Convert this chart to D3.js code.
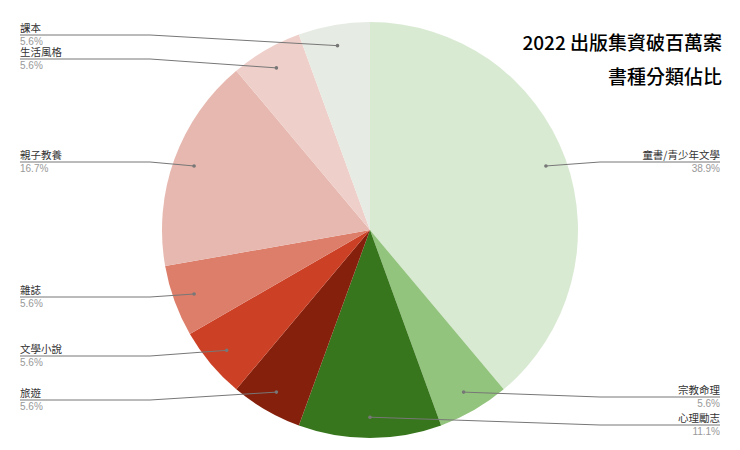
<!DOCTYPE html>
<html><head><meta charset="utf-8">
<script src="https://cdn.jsdelivr.net/npm/d3@7"></script>
<style>body{margin:0;background:#fff;font-family:"Noto Sans CJK TC",sans-serif}</style>
</head><body><div id="chart"></div>
<script>
const categories = ["童書/青少年文學","宗教命理","心理勵志","旅遊","文學小說","雜誌","親子教養","生活風格","課本"];
const values = [7, 1, 2, 1, 1, 1, 3, 1, 1];
const percentLabels = ["38.9%","5.6%","11.1%","5.6%","5.6%","5.6%","16.7%","5.6%","5.6%"];
const colors = ["#d9ead3","#93c47d","#38761d","#85200c","#cc4125","#dd7e6b","#e6b8af","#efcfca","#e6ebe3"];
// label line y for each slice, and which side
const labelY = [162, 397, 425, 400, 356, 297, 162, 59, 35];
const side = ["R","R","R","L","L","L","L","L","L"];

const W = 740, H = 450, cx = 370, cy = 230, r = 208;
const svg = d3.select("#chart").append("svg").attr("width", W).attr("height", H);

const pie = d3.pie().sort(null).value(d => d)(values);
const arc = d3.arc().innerRadius(0).outerRadius(r);
const g = svg.append("g").attr("transform", `translate(${cx},${cy})`);
g.selectAll("path").data(pie).join("path")
  .attr("d", arc).attr("fill", (d, i) => colors[i]);

const dotArc = d3.arc().innerRadius(r * 0.9).outerRadius(r * 0.9);
pie.forEach((d, i) => {
  const [dx, dy] = dotArc.centroid(d);
  const px = cx + dx, py = cy + dy;
  const y = labelY[i];
  const left = side[i] === "L";
  const x0 = left ? 20 : 720;
  const xm = left ? Math.min(px - 30, 150) : Math.max(px + 30, 600);
  svg.append("path")
    .attr("d", `M${x0},${y}L${xm},${y}L${px},${py}`)
    .attr("fill", "none").attr("stroke", "#777").attr("stroke-width", 1);
  svg.append("circle").attr("cx", px).attr("cy", py).attr("r", 1.8).attr("fill", "#777");
  const anchor = left ? "start" : "end";
  svg.append("text").attr("x", x0).attr("y", y - 3).attr("text-anchor", anchor)
    .attr("font-size", 10.5).attr("fill", "#333").text(categories[i]);
  svg.append("text").attr("x", x0).attr("y", y + 10).attr("text-anchor", anchor)
    .attr("font-size", 10).attr("fill", "#999").attr("font-family", "Arial, sans-serif").text(percentLabels[i]);
});

svg.append("text").attr("x", 722).attr("y", 50).attr("text-anchor", "end")
  .attr("font-size", 19).attr("font-weight", 500).attr("fill", "#000").text("2022 出版集資破百萬案");
svg.append("text").attr("x", 722).attr("y", 84).attr("text-anchor", "end")
  .attr("font-size", 19).attr("font-weight", 500).attr("fill", "#000").text("書種分類佔比");
</script></body></html>
